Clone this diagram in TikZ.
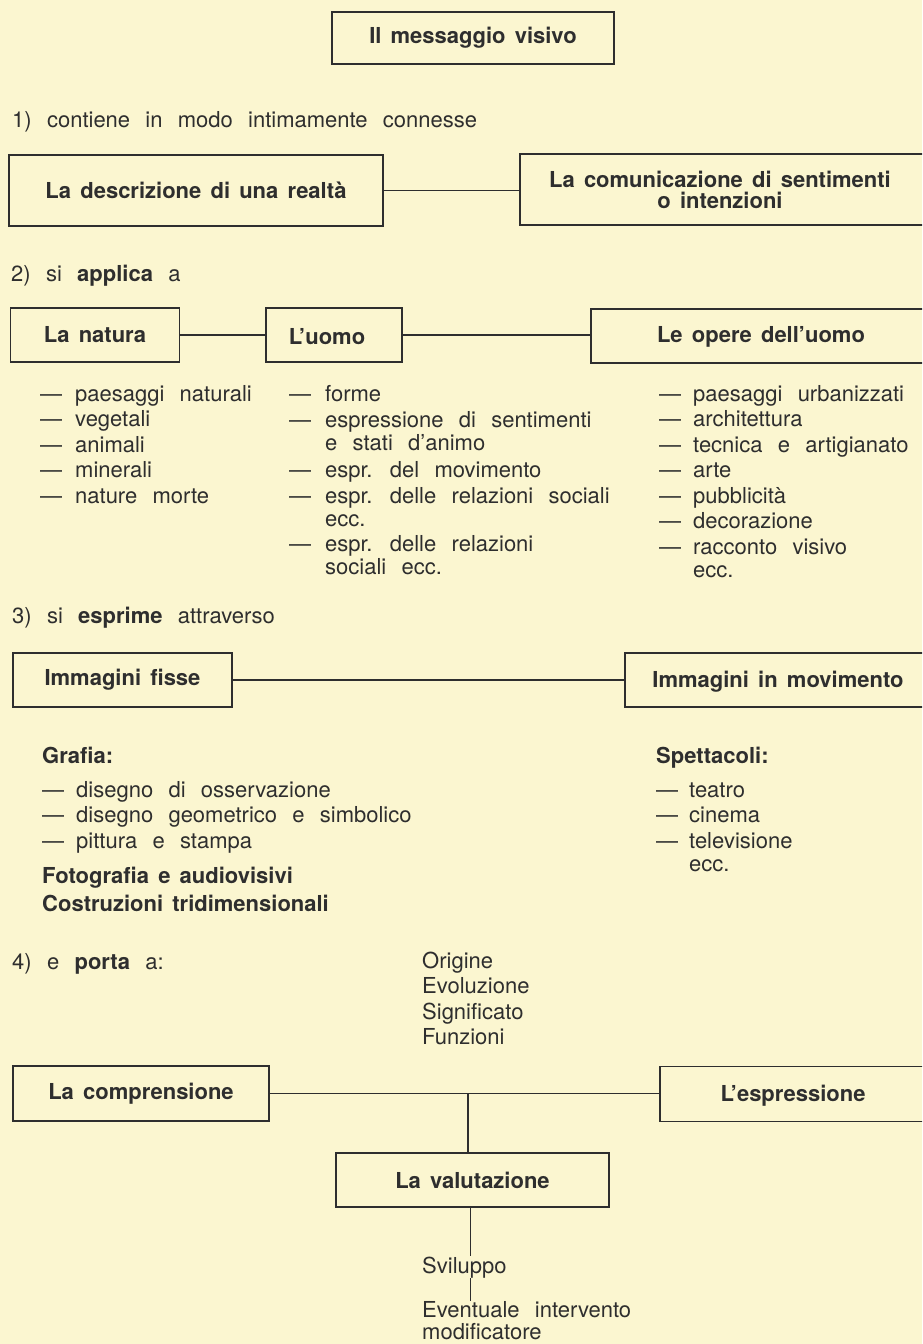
\documentclass[tikz,border=0pt]{standalone}
\usepackage{fontspec}
\setmainfont{TeX Gyre Heros}[WordSpace=2.5, BoldFeatures={WordSpace=1.5}]
\usetikzlibrary{calc}
\definecolor{bg}{HTML}{FBF6D0}
\definecolor{ink}{HTML}{2E2E2E}
\newcommand\fs{\fontsize{22}{25.5}\selectfont}
\tikzset{
  every node/.style={text=ink, font=\fs},
  box/.style={draw=ink, line width=1.7pt, inner sep=0pt},
  lbl/.style={font=\fs\bfseries},
  txt/.style={anchor=base west, inner sep=0pt},
  link/.style={draw=ink, line width=1.4pt},
}
\begin{document}
\begin{tikzpicture}[x=1pt,y=-1pt]
\path[use as bounding box, fill=bg] (0,0) rectangle (922,1344);
\clip (0,0) rectangle (922,1344);

% ---------- title
\node[box, lbl, minimum width=282pt, minimum height=52pt] (title) at (473,38) {Il messaggio visivo};

% ---------- section 1
\node[txt] (s1) at (12,127.5) {1) contiene in modo intimamente connesse};
\node[box, lbl, minimum width=374pt, minimum height=71pt] (descr) at (196,190.5) {La descrizione di una realtà};
\node[box, minimum width=442pt, minimum height=71pt] (comun) at (741,189.5) {};
\node[lbl, align=center, font=\fontsize{22}{21}\selectfont\bfseries] (comunt) at (720,190) {La comunicazione di sentimenti\\o intenzioni};
\draw[link] (descr.east) -- (descr.east -| comun.west);

% ---------- section 2
\node[txt] (s2) at (11,281) {2) si \textbf{applica} a};
\node[box, lbl, minimum width=169pt, minimum height=54pt] (natura) at (95,335) {La natura};
\node[box, minimum width=136pt, minimum height=54pt] (uomo) at (334,335) {};
\node[lbl] (uomot) at (327,337) {L’uomo};
\node[box, minimum width=371pt, minimum height=54pt] (opere) at (776.5,336) {};
\node[lbl] (operet) at (761,337) {Le opere dell’uomo};
\draw[link] (natura.east) -- (natura.east -| uomo.west);
\draw[link] (uomo.east) -- (uomo.east -| opere.west);

\node[txt] (list1) at (40,401) {\begin{tabular}[t]{@{}l@{\hspace{13pt}}l@{}}
— & paesaggi naturali\\
— & vegetali\\
— & animali\\
— & minerali\\
— & nature morte
\end{tabular}};
\node[txt] (list2) at (289,401) {\begin{tabular}[t]{@{}l@{\hspace{14pt}}l@{}}
— & forme\\[0.5pt]
— & espressione di sentimenti\\[-2.5pt]
  & e stati d’animo\\[1.5pt]
— & espr. del movimento\\[0.5pt]
— & espr. delle relazioni sociali\\[-2.5pt]
  & ecc.\\[-0.5pt]
— & espr. delle relazioni\\[-2.5pt]
  & sociali ecc.
\end{tabular}};
\node[txt] (list3) at (659,401) {\begin{tabular}[t]{@{}l@{\hspace{12pt}}l@{}}
— & paesaggi urbanizzati\\
— & architettura\\
— & tecnica e artigianato\\
— & arte\\
— & pubblicità\\
— & decorazione\\
— & racconto visivo\\[-2.5pt]
  & ecc.
\end{tabular}};

% ---------- section 3
\node[txt] (s3) at (12,623) {3) si \textbf{esprime} attraverso};
\node[box, lbl, minimum width=219pt, minimum height=54pt] (fisse) at (122.5,680) {Immagini fisse};
\node[box, minimum width=337pt, minimum height=54pt] (movim) at (793.5,680) {};
\node[lbl] (movimt) at (778,682) {Immagini in movimento};
\draw[link] (fisse.east) -- (fisse.east -| movim.west);

\node[txt] (list4) at (42,763) {\begin{tabular}[t]{@{}l@{\hspace{12pt}}l@{}}
\multicolumn{2}{@{}l@{}}{\bfseries Grafia:}\\[8.5pt]
— & disegno di osservazione\\
— & disegno geometrico e simbolico\\
— & pittura e stampa\\[9.5pt]
\multicolumn{2}{@{}l@{}}{\bfseries Fotografia e audiovisivi}\\[2.5pt]
\multicolumn{2}{@{}l@{}}{\bfseries Costruzioni tridimensionali}
\end{tabular}};
\node[txt] (list5) at (656,763) {\begin{tabular}[t]{@{}l@{\hspace{11pt}}l@{}}
\multicolumn{2}{@{}l@{}}{\bfseries Spettacoli:}\\[8.5pt]
— & teatro\\
— & cinema\\
— & televisione\\[-2.5pt]
  & ecc.
\end{tabular}};

% ---------- section 4
\node[txt] (s4) at (12,969) {4) e \textbf{porta} a:};
\node[txt] (aspects) at (422,968) {\begin{tabular}[t]{@{}l@{}}
Origine\\ Evoluzione\\ Significato\\ Funzioni
\end{tabular}};
\node[box, lbl, minimum width=256pt, minimum height=55pt] (compr) at (141,1093.5) {La comprensione};
\node[box, minimum width=302pt, minimum height=55pt] (espr) at (811,1094) {};
\node[lbl] (esprt) at (793,1096) {L’espressione};
\draw[link] (compr.east) -- (compr.east -| espr.west);
\node[box, lbl, minimum width=273pt, minimum height=54pt] (valut) at (472.5,1180) {La valutazione};
\coordinate (jn) at (468,0);
\draw[link] (jn |- compr.east) -- (jn |- valut.north);

\node[txt] (svil) at (422,1273) {Sviluppo};
\node[txt] (event) at (422,1317) {\begin{tabular}[t]{@{}l@{}}
Eventuale intervento\\[-3.5pt] modificatore
\end{tabular}};
\coordinate (vx) at (470.5,0);
\draw[link] (vx |- valut.south) -- (vx |- svil.north);
\draw[link] (vx |- svil.south) -- ($(vx |- event.north)+(0,2)$);
\end{tikzpicture}
\end{document}
